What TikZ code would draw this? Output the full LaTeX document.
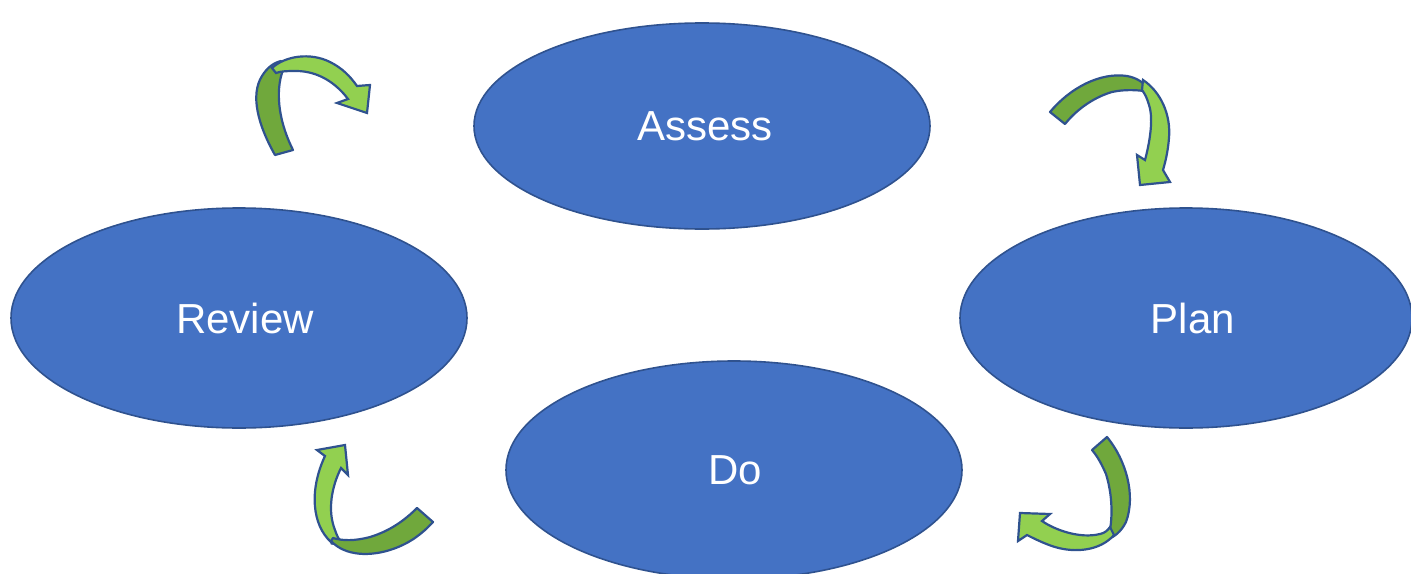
\documentclass[tikz,border=0pt]{standalone}
\usepackage{fontspec}
\setmainfont{Liberation Sans}
\usetikzlibrary{shapes.geometric}
\definecolor{ellfill}{HTML}{4472C4}
\definecolor{ellline}{HTML}{2F528F}
\definecolor{arrlight}{HTML}{92D050}
\definecolor{arrdark}{HTML}{70A83C}
\definecolor{arrline}{HTML}{2F528F}
\begin{document}
\begin{tikzpicture}[x=1pt,y=-1pt,
  stage/.style={ellipse,draw=ellline,line width=1.6pt,fill=ellfill,text=white,font=\fontsize{42}{48}\selectfont,inner sep=0pt,outer sep=0pt},
  back/.style={fill=arrdark,draw=arrline,line width=2.2pt,line join=round},
  front/.style={fill=arrlight,draw=arrline,line width=2.2pt,line join=miter}]
\useasboundingbox (0,0) rectangle (1411,573);
% ellipses
\node[stage,minimum width=456pt,minimum height=206pt] (assess) at (702,126) {\hspace*{6pt}Assess};
\node[stage,minimum width=456pt,minimum height=220pt] (review) at (239,318) {\hspace*{12pt}Review};
\node[stage,minimum width=452pt,minimum height=220pt] (plan) at (1186,318) {\hspace*{14pt}Plan};
\node[stage,minimum width=456pt,minimum height=218pt] (do) at (734,470) {\hspace*{2pt}Do};
% arrow 1 (top-left)
\path[back] (275,155) .. controls (258,125) and (250,95) .. (262,76)
  .. controls (267,68) and (273,63) .. (281,61)
  -- (285,66) .. controls (278,78) and (273,110) .. (293,150) -- cycle;
\path[front] (272,68) .. controls (285,56) and (310,52) .. (330,62)
  .. controls (342,68) and (350,76) .. (357,86)
  -- (370,85) -- (367,113) -- (337,103) -- (348,99)
  .. controls (336,83) and (318,71) .. (296,71)
  .. controls (288,71) and (281,71) .. (276,73) -- cycle;
% arrow 2 (top-right)
\path[back] (1050,112) .. controls (1070,88) and (1100,72) .. (1127,76)
  .. controls (1138,78) and (1146,84) .. (1150,92)
  .. controls (1140,90) and (1125,89) .. (1112,92)
  .. controls (1095,97) and (1078,108) .. (1065,124) -- cycle;
\path[front] (1143,80) .. controls (1161,92) and (1171,115) .. (1169,138)
  .. controls (1168,150) and (1166,160) .. (1163,170)
  -- (1170,182) -- (1140,185) -- (1137,155) -- (1145,160)
  .. controls (1149,145) and (1154,120) .. (1149,105)
  .. controls (1147,98) and (1145,94) .. (1142,90) -- cycle;
% arrow 3 (bottom-left)
\path[front] (325,456) -- (317,450) -- (345,445) -- (348,475) -- (341,468)
  .. controls (332,486) and (327,510) .. (335,530)
  .. controls (337,536) and (339,540) .. (341,541)
  .. controls (335,544) and (331,545) .. (331,542)
  .. controls (312,525) and (309,490) .. (325,456) -- cycle;
\path[back] (331,541) .. controls (345,556) and (370,557) .. (393,549)
  .. controls (410,543) and (422,534) .. (433,522)
  -- (417,508) .. controls (405,520) and (390,531) .. (370,537)
  .. controls (355,541) and (343,541) .. (333,538) -- cycle;
% arrow 4 (bottom-right)
\path[back] (1092,450) -- (1107,437) .. controls (1126,460) and (1136,495) .. (1126,522)
  .. controls (1121,532) and (1114,537) .. (1108,539)
  .. controls (1112,525) and (1114,500) .. (1106,474)
  .. controls (1102,465) and (1098,457) .. (1092,450) -- cycle;
\path[front] (1114,535) .. controls (1100,551) and (1075,553) .. (1055,547)
  .. controls (1045,544) and (1035,539) .. (1027,535)
  -- (1018,541) -- (1020,513) -- (1050,514) -- (1042,521)
  .. controls (1055,530) and (1080,539) .. (1100,534)
  .. controls (1105,533) and (1108,530) .. (1110,527) -- cycle;
\end{tikzpicture}
\end{document}
